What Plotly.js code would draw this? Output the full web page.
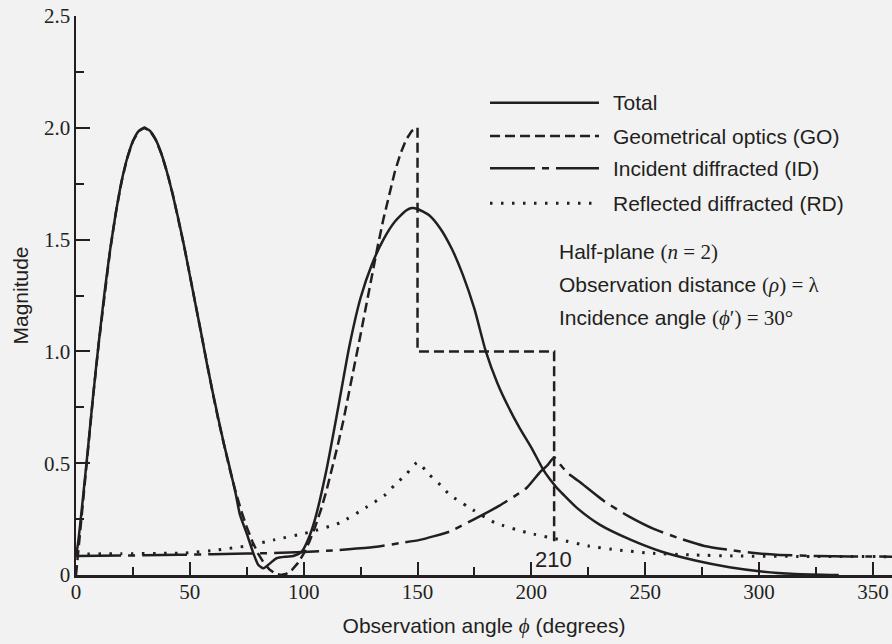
<!DOCTYPE html>
<html>
<head>
<meta charset="utf-8">
<script src="https://cdn.plot.ly/plotly-3.0.1.min.js"></script>
<style>html,body{margin:0;padding:0;background:#f2f2f2;}</style>
</head>
<body>
<div id="chart" style="width:892px;height:644px;"></div>
<script>
// ---- data ----
const totalX = [0,1,2.5,5,7.5,10,12.5,15,17.5,20,22.5,25,27.5,30,32.5,35,37.5,40,42.5,45,47.5,50,52.5,55,57.5,60,62.5,65,67.5,70,72,75,77.9,80.1,82.3,85.2,88.1,92.5,95.4,99.1,102,105,110,115,120,125,130,135,140,145,147.5,150,155,160,165,170,175,180,185,190,195,200,205,208,211,214,220,230,243,257,272,287,302,316,335];
const totalY = [0.08,0.15,0.29,0.54,0.80,1.04,1.26,1.455,1.62,1.76,1.865,1.94,1.985,2.0,1.986,1.947,1.884,1.80,1.70,1.59,1.47,1.34,1.21,1.08,0.945,0.82,0.70,0.585,0.48,0.37,0.27,0.185,0.097,0.045,0.03,0.052,0.075,0.082,0.085,0.104,0.16,0.25,0.47,0.74,1.02,1.24,1.39,1.50,1.58,1.63,1.641,1.637,1.61,1.55,1.46,1.34,1.19,1.0,0.86,0.75,0.655,0.57,0.475,0.43,0.392,0.36,0.30,0.225,0.16,0.105,0.065,0.035,0.015,0.005,0.0];

const goX = [0,2.5,5,7.5,10,12.5,15,17.5,20,22.5,25,27.5,30,32.5,35,37.5,40,42.5,45,47.5,50,52.5,55,57.5,60,62.5,65,67.5,70,72.5,75,77.5,80,82.5,85,87.5,90,92.5,95,97.5,100,102.5,105,107.5,110,112.5,115,117.5,120,122.5,125,127.5,130,132.5,135,137.5,140,142.5,145,147.5,150,150,210,210];
const goY = [0,0.273,0.541,0.797,1.037,1.258,1.453,1.620,1.759,1.865,1.941,1.985,2.0,1.986,1.947,1.884,1.802,1.703,1.591,1.470,1.341,1.207,1.076,0.943,0.817,0.694,0.581,0.474,0.377,0.289,0.214,0.149,0.095,0.054,0.024,0.006,0,0.006,0.024,0.054,0.095,0.149,0.214,0.289,0.377,0.474,0.581,0.694,0.817,0.943,1.076,1.207,1.341,1.470,1.591,1.703,1.802,1.884,1.947,1.986,2.0,1.0,1.0,0];

const idX = [0,30,60,90,110,130,142,151,164,175,186,193,198,204,207,210,213,216,221,232,243,254,265,276,287,298,309,325,340,358.4];
const idY = [0.085,0.088,0.093,0.099,0.108,0.124,0.142,0.157,0.194,0.25,0.31,0.355,0.39,0.462,0.49,0.525,0.49,0.455,0.418,0.33,0.261,0.205,0.164,0.13,0.112,0.098,0.09,0.085,0.083,0.082];

const rdX = [0,20,40,48,62,75,87,102,116,128,136,140,145,150,155,160,164,172,184,198,213,225,238,252,270,290,320,358.4];
const rdY = [0.094,0.095,0.097,0.098,0.112,0.13,0.157,0.19,0.234,0.306,0.36,0.403,0.45,0.504,0.45,0.403,0.36,0.306,0.234,0.19,0.157,0.13,0.112,0.098,0.09,0.085,0.083,0.082];

const xTicks = [0,50,100,150,200,250,300,350];
const xMinor = [25,75,125,175,225,275,325];
const yTicks = [0,0.5,1.0,1.5,2.0,2.5];
const yTickText = ['0','0.5','1.0','1.5','2.0','2.5'];
const yMinor = [0.25,0.75,1.25,1.75,2.25];

const seriesNames = ['Total','Geometrical optics (GO)','Incident diffracted (ID)','Reflected diffracted (RD)'];
// ---------------------------------------

const INK = '#231f20';
const BG = '#f2f2f2';
const SANS = 'Liberation Sans, Arial, sans-serif';
const SERIF = 'Liberation Serif, Times New Roman, serif';
const dashes = ['solid','10px,5px','45px,7px,7px,7px','2.5px,8.5px'];

const traces = [
  {x: totalX, y: totalY, mode:'lines', line:{color:INK, width:2.5, shape:'spline', smoothing:0.6, dash:dashes[0]}, name:seriesNames[0]},
  {x: goX, y: goY, mode:'lines', line:{color:INK, width:2.5, dash:dashes[1]}, name:seriesNames[1]},
  {x: idX, y: idY, mode:'lines', line:{color:INK, width:2.5, shape:'spline', smoothing:0.5, dash:dashes[2]}, name:seriesNames[2]},
  {x: rdX, y: rdY, mode:'lines', line:{color:INK, width:3, shape:'spline', smoothing:0.5, dash:dashes[3]}, name:seriesNames[3]}
];

// manual legend (long line samples as in the reference)
const L = 76, W = 816, T = 16, H = 559;
const px = v => (v - L) / W;
const py = v => (575 - v) / H;
const rowsY = [102.7, 136, 168.3, 203.3];
const shapes = [];
const annotations = [];
rowsY.forEach((r, i) => {
  shapes.push({type:'line', xref:'paper', yref:'paper', x0:px(490), x1:px(599), y0:py(r), y1:py(r),
    line:{color:INK, width: i===3 ? 3 : 2.5, dash:dashes[i]}});
  annotations.push({xref:'paper', yref:'paper', x:px(611), y:py(r), xanchor:'left', yanchor:'middle',
    text:seriesNames[i], showarrow:false, font:{family:SANS, size:21, color:INK}});
});
const sv = s => '<span style="font-family:Liberation Serif">' + s + '</span>';
const notes = [
  'Half-plane ' + sv('(<i>n</i> = 2)'),
  'Observation distance ' + sv('(<i>ρ</i>) = λ'),
  'Incidence angle ' + sv('(<i>ϕ</i>′) = 30°')
];
[251.7, 285, 318.3].forEach((r, i) => {
  annotations.push({xref:'paper', yref:'paper', x:px(556.7), y:py(r), xanchor:'left', yanchor:'middle',
    text:notes[i], showarrow:false, font:{family:SANS, size:21, color:INK}});
});
annotations.push({xref:'x', yref:'y', x:209.6, y:0.07, text:'210', showarrow:false,
  font:{family:SANS, size:22, color:INK}, bgcolor:BG, borderpad:1});

const layout = {
  width:892, height:644,
  margin:{l:L, r:0, t:T, b:69, pad:0},
  paper_bgcolor:BG, plot_bgcolor:BG,
  showlegend:false,
  font:{family:SANS, color:INK},
  xaxis:{
    range:[0,358.4], showline:true, linecolor:INK, linewidth:2.5, mirror:false,
    showgrid:false, zeroline:false,
    ticks:'inside', ticklen:13, tickwidth:2, tickcolor:INK,
    tickmode:'array', tickvals:xTicks, ticktext:xTicks.map(String),
    tickfont:{family:SERIF, size:21, color:INK}, ticklabelstandoff:-4,
    minor:{ticks:'inside', ticklen:8, tickwidth:2, tickcolor:INK, tickmode:'array', tickvals:xMinor, showgrid:false},
    title:{text:'Observation angle ' + sv('<i>ϕ</i>') + ' (degrees)', font:{family:SANS, size:21, color:INK}, standoff:16}
  },
  yaxis:{
    range:[0,2.5], showline:true, linecolor:INK, linewidth:2.5,
    showgrid:false, zeroline:false,
    ticks:'inside', ticklen:14, tickwidth:2, tickcolor:INK,
    tickmode:'array', tickvals:yTicks, ticktext:yTickText,
    tickfont:{family:SERIF, size:21, color:INK}, ticklabelstandoff:-1,
    minor:{ticks:'inside', ticklen:8, tickwidth:2, tickcolor:INK, tickmode:'array', tickvals:yMinor, showgrid:false},
    title:{text:'Magnitude', font:{family:SANS, size:21, color:INK}, standoff:10}
  },
  shapes:shapes,
  annotations:annotations
};

Plotly.newPlot('chart', traces, layout, {displayModeBar:false, staticPlot:true});
</script>
</body>
</html>
